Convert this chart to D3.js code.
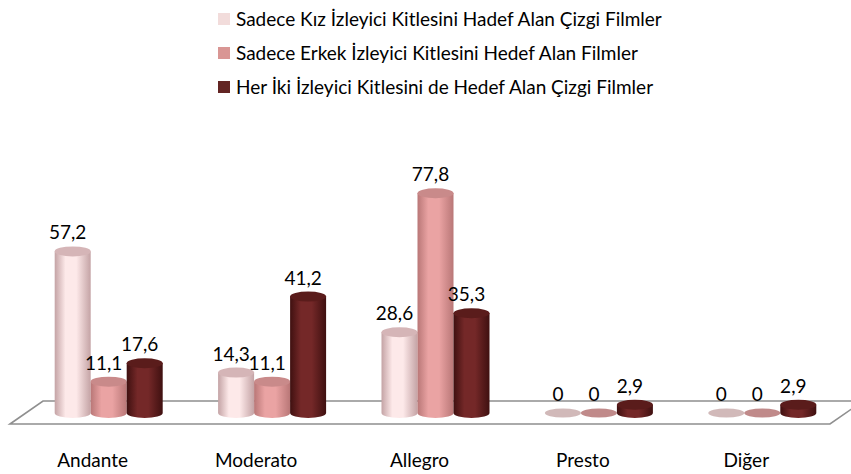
<!DOCTYPE html>
<html>
<head>
<meta charset="utf-8">
<script src="https://cdn.jsdelivr.net/npm/d3@7"></script>
<style>
  body { margin: 0; background: #fff; }
  text { font-family: Lato, "Open Sans", sans-serif; fill: #000; }
</style>
</head>
<body>
<svg id="chart" width="851" height="474"></svg>
<script>
// veriler
var categories = ["Andante", "Moderato", "Allegro", "Presto", "Diğer"];
var seriesNames = [
  "Sadece Kız İzleyici Kitlesini Hadef Alan Çizgi Filmler",
  "Sadece Erkek İzleyici Kitlesini Hedef Alan Filmler",
  "Her İki İzleyici Kitlesini de Hedef Alan Çizgi Filmler"
];
var kiz = [57.2, 14.3, 28.6, 0, 0];
var erkek = [11.1, 11.1, 77.8, 0, 0];
var herIki = [17.6, 41.2, 35.3, 2.9, 2.9];
var seriesValues = [kiz, erkek, herIki];

// renkler: gövde kenarı, gövde ortası, üst kapak, sıfır elipsi
var colors = [
  {swatch: "#f2dcdb", edge: "#c4a3a5", mid: "#fde9e9", top: "#d5b5b7", flat: "#c9adad"},
  {swatch: "#d99694", edge: "#b97777", mid: "#eaa3a3", top: "#c98a8a", flat: "#b57676"},
  {swatch: "#632523", edge: "#3f1010", mid: "#742828", top: "#5a1c1b", flat: "#5a1c1b"}
];

var svg = d3.select("#chart");

var x0 = d3.scaleBand().domain(categories).range([27, 844]);
var x1 = d3.scaleBand().domain(d3.range(3)).range([0, 108]);
var y = d3.scaleLinear().domain([0, 80]).range([413, 187]);

var ry = 5;
var depth = 33;
var fs = 19;

// gradyanlar
var defs = svg.append("defs");
colors.forEach(function(c, i) {
  var g = defs.append("linearGradient").attr("id", "cyl" + i)
    .attr("x1", "0%").attr("x2", "100%").attr("y1", "0%").attr("y2", "0%");
  g.append("stop").attr("offset", "0%").attr("stop-color", c.edge);
  g.append("stop").attr("offset", "30%").attr("stop-color", c.mid);
  g.append("stop").attr("offset", "60%").attr("stop-color", c.mid);
  g.append("stop").attr("offset", "100%").attr("stop-color", c.edge);
});

// zemin
var base = y(0);
var fl = x0.range()[0] - 17, fr = x0.range()[1] - 14;
svg.append("path")
  .attr("d", "M" + fl + "," + (base + 11) + "L" + (fl + depth) + "," + (base - 12) +
    "L" + (fr + depth) + "," + (base - 12) + "L" + fr + "," + (base + 11) + "Z")
  .attr("fill", "#fff")
  .attr("stroke", "#8f8f8f")
  .attr("stroke-width", 1.6);

// veri tablosu
var data = [];
categories.forEach(function(cat, ci) {
  seriesValues.forEach(function(vals, si) {
    data.push({cat: cat, s: si, v: vals[ci]});
  });
});

var bw = x1.bandwidth();
var bars = svg.append("g").selectAll("g").data(data).enter().append("g")
  .attr("transform", d => "translate(" + (x0(d.cat) + (x0.bandwidth() - 108) / 2 + x1(d.s)) + ",0)");

bars.each(function(d) {
  var g = d3.select(this);
  var rx = bw / 2;
  var cx = rx;
  if (d.v === 0) {
    g.append("ellipse").attr("cx", cx).attr("cy", base).attr("rx", rx).attr("ry", ry - 0.5)
      .attr("fill", colors[d.s].flat).attr("opacity", 0.85);
    return;
  }
  var top = y(d.v);
  g.append("path")
    .attr("d", "M0," + top + "L0," + base + "A" + rx + "," + ry + " 0 0 0 " + bw + "," + base +
      "L" + bw + "," + top + "Z")
    .attr("fill", "url(#cyl" + d.s + ")");
  g.append("ellipse").attr("cx", cx).attr("cy", top).attr("rx", rx).attr("ry", ry)
    .attr("fill", colors[d.s].top);
});

// değer etiketleri
svg.append("g").selectAll("text").data(data).enter().append("text")
  .attr("x", d => x0(d.cat) + (x0.bandwidth() - 108) / 2 + x1(d.s) + bw / 2 - 5)
  .attr("y", d => y(d.v) - 12)
  .attr("text-anchor", "middle")
  .attr("font-size", fs)
  .text(d => String(d.v).replace(".", ","));

// kategori etiketleri
svg.append("g").selectAll("text").data(categories).enter().append("text")
  .attr("x", d => x0(d) + x0.bandwidth() / 2 - 16)
  .attr("y", 467)
  .attr("text-anchor", "middle")
  .attr("font-size", fs)
  .text(d => d);

// gösterge
var legend = svg.append("g").selectAll("g").data(seriesNames).enter().append("g")
  .attr("transform", (d, i) => "translate(218," + (13 + i * 34) + ")");
legend.append("rect").attr("width", 12).attr("height", 12)
  .attr("fill", (d, i) => colors[i].swatch);
legend.append("text").attr("x", 18).attr("y", 12.5)
  .attr("font-size", fs)
  .text(d => d);
</script>
</body>
</html>
